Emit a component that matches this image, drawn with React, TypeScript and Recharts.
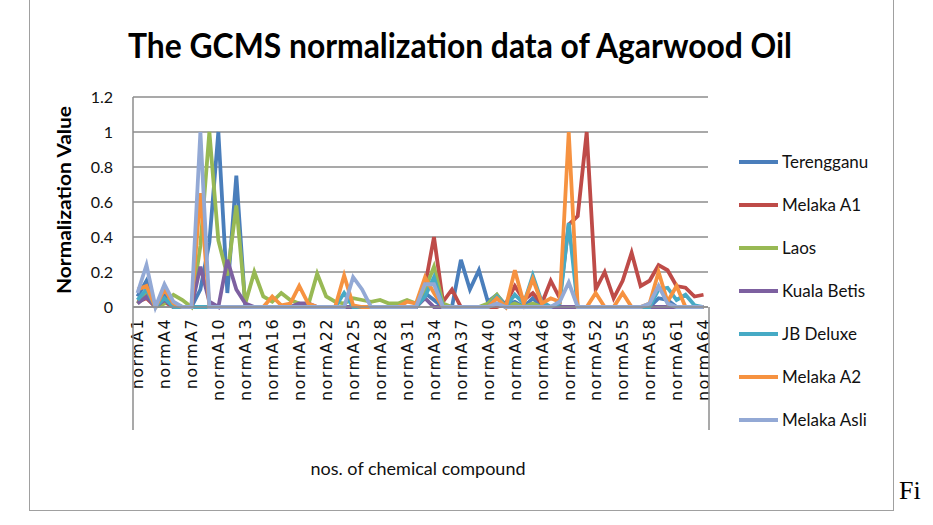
import React from 'react';
import { LineChart, Line, XAxis, YAxis, CartesianGrid } from 'recharts';

// compound labels normA1 .. normA64
const compounds = [
  'normA1', 'normA2', 'normA3', 'normA4', 'normA5', 'normA6', 'normA7', 'normA8',
  'normA9', 'normA10', 'normA11', 'normA12', 'normA13', 'normA14', 'normA15', 'normA16',
  'normA17', 'normA18', 'normA19', 'normA20', 'normA21', 'normA22', 'normA23', 'normA24',
  'normA25', 'normA26', 'normA27', 'normA28', 'normA29', 'normA30', 'normA31', 'normA32',
  'normA33', 'normA34', 'normA35', 'normA36', 'normA37', 'normA38', 'normA39', 'normA40',
  'normA41', 'normA42', 'normA43', 'normA44', 'normA45', 'normA46', 'normA47', 'normA48',
  'normA49', 'normA50', 'normA51', 'normA52', 'normA53', 'normA54', 'normA55', 'normA56',
  'normA57', 'normA58', 'normA59', 'normA60', 'normA61', 'normA62', 'normA63', 'normA64',
];

const terengganu = [
  0.06, 0.15, 0, 0.07, 0.02, 0, 0, 0.1, 0.37, 1.0, 0.08, 0.75, 0, 0, 0, 0,
  0, 0, 0, 0, 0, 0, 0, 0, 0, 0, 0, 0, 0, 0, 0, 0,
  0.08, 0.04, 0, 0, 0.27, 0.1, 0.21, 0.03, 0.07, 0.01, 0.03, 0, 0.05, 0, 0, 0,
  0, 0, 0, 0, 0, 0, 0, 0, 0, 0, 0.05, 0.04, 0, 0, 0, 0,
];

const melakaA1 = [
  0.03, 0.05, 0, 0.03, 0, 0, 0, 0, 0, 0, 0, 0, 0, 0, 0, 0,
  0, 0, 0, 0, 0, 0, 0, 0, 0, 0, 0, 0, 0, 0, 0, 0,
  0.12, 0.4, 0.03, 0.1, 0, 0, 0, 0, 0, 0.02, 0.12, 0.04, 0.08, 0.02, 0.15, 0.05,
  0.47, 0.52, 1.0, 0.1, 0.2, 0.05, 0.15, 0.31, 0.12, 0.15, 0.24, 0.21, 0.12, 0.11, 0.06, 0.07,
];

const laos = [
  0.02, 0.08, 0, 0.02, 0.07, 0.04, 0, 0.35, 1.0, 0.38, 0.18, 0.58, 0.02, 0.2, 0.06, 0.03,
  0.08, 0.04, 0.02, 0.01, 0.19, 0.06, 0.03, 0.02, 0.05, 0.04, 0.03, 0.04, 0.02, 0.02, 0.04, 0.02,
  0.1, 0.23, 0.02, 0, 0, 0, 0, 0.02, 0.07, 0, 0.02, 0, 0.02, 0, 0, 0,
  0, 0, 0, 0, 0, 0, 0, 0, 0, 0, 0, 0, 0, 0, 0, 0,
];

const kualaBetis = [
  0.02, 0.06, 0, 0.04, 0, 0, 0, 0.23, 0.03, 0, 0.27, 0.1, 0.02, 0, 0, 0,
  0, 0, 0.02, 0.02, 0, 0, 0, 0, 0, 0, 0, 0, 0, 0, 0, 0,
  0.05, 0, 0, 0, 0, 0, 0, 0, 0.02, 0, 0, 0, 0, 0, 0, 0,
  0, 0, 0, 0, 0, 0, 0, 0, 0, 0, 0, 0, 0, 0, 0, 0,
];

const jbDeluxe = [
  0.04, 0.1, 0, 0.05, 0, 0, 0, 0, 0, 0, 0, 0, 0, 0, 0, 0,
  0, 0, 0, 0, 0, 0, 0, 0.08, 0, 0, 0, 0, 0, 0, 0, 0,
  0.06, 0.17, 0, 0, 0, 0, 0, 0, 0.06, 0, 0.07, 0.02, 0.18, 0.03, 0, 0.02,
  0.48, 0, 0, 0, 0, 0, 0, 0, 0, 0, 0.1, 0.11, 0.04, 0.07, 0.01, 0,
];

const melakaA2 = [
  0.1, 0.12, 0, 0.1, 0.02, 0, 0, 0.65, 0, 0, 0, 0, 0, 0, 0, 0.06,
  0.01, 0.02, 0.12, 0.02, 0, 0, 0, 0.18, 0.01, 0, 0, 0, 0, 0, 0.03, 0.02,
  0.17, 0.08, 0, 0, 0, 0, 0, 0, 0.05, 0, 0.21, 0.02, 0.16, 0.02, 0.05, 0.03,
  1.0, 0, 0, 0.08, 0, 0, 0.08, 0, 0, 0.02, 0.2, 0.03, 0.12, 0, 0, 0,
];

const melakaAsli = [
  0.08, 0.24, 0, 0.13, 0.03, 0, 0, 1.0, 0, 0, 0, 0, 0, 0, 0, 0,
  0, 0, 0, 0, 0, 0, 0, 0, 0.17, 0.1, 0, 0, 0, 0, 0, 0,
  0.13, 0.13, 0, 0, 0, 0, 0, 0, 0.02, 0, 0, 0, 0, 0, 0, 0.03,
  0.14, 0, 0, 0, 0, 0, 0, 0, 0, 0.02, 0.12, 0.02, 0, 0, 0, 0,
];

const yTicks = [0, 0.2, 0.4, 0.6, 0.8, 1, 1.2];

const SERIES = [
  { key: 'Terengganu', values: terengganu, color: '#4A7EBB' },
  { key: 'Melaka A1', values: melakaA1, color: '#BE4B48' },
  { key: 'Laos', values: laos, color: '#98B954' },
  { key: 'Kuala Betis', values: kualaBetis, color: '#7D60A0' },
  { key: 'JB Deluxe', values: jbDeluxe, color: '#46AAC5' },
  { key: 'Melaka A2', values: melakaA2, color: '#F69240' },
  { key: 'Melaka Asli', values: melakaAsli, color: '#93A9D5' },
];

const data = compounds.map((name, i) => {
  const row: Record<string, any> = { name };
  SERIES.forEach((s) => {
    row[s.key] = s.values[i];
  });
  return row;
});

const FONT = '"DejaVu Sans", sans-serif';
const CAL = 'Lato, "Open Sans", sans-serif';

function CompoundTick({ x, payload }: any) {
  return (
    <text
      transform={`translate(${x},318) rotate(-90)`}
      textAnchor="end"
      dy="0.36em"
      fontSize={16}
      letterSpacing={1.4}
      fontFamily={FONT}
      fill="#111"
    >
      {payload.value}
    </text>
  );
}

// legend kept outside the chart so it doesn't eat into the plot width
function SideLegend() {
  return (
    <div style={{ position: 'absolute', left: 739, top: 140 }}>
      {SERIES.map((s) => (
        <div key={s.key} style={{ display: 'flex', alignItems: 'center', height: 43 }}>
          <div style={{ width: 39, height: 4, background: s.color, marginRight: 4 }} />
          <span style={{ fontFamily: CAL, fontSize: 17, color: '#111' }}>{s.key}</span>
        </div>
      ))}
    </div>
  );
}

export default function App() {
  return (
    <div style={{ position: 'absolute', left: 0, top: 0, width: 933, height: 525, background: '#fff' }}>
      <div
        style={{
          position: 'absolute',
          left: 29,
          top: -2,
          width: 863,
          height: 511,
          border: '1px solid #a0a0a0',
        }}
      />
      <LineChart
        width={933}
        height={525}
        data={data}
        margin={{ top: 97, right: 225, left: 0, bottom: 0 }}
        style={{ position: 'absolute', left: 0, top: 0 }}
      >
        <CartesianGrid vertical={false} stroke="#8c8c8c" strokeWidth={1.5} />
        <XAxis
          dataKey="name"
          interval={2}
          height={218}
          padding={{ left: 4.5, right: 4.5 }}
          tick={<CompoundTick />}
          tickLine={false}
          axisLine={{ stroke: '#8c8c8c', strokeWidth: 1.5 }}
        />
        <YAxis
          width={133}
          domain={[0, 1.2]}
          ticks={yTicks}
          tickFormatter={(v: number) => String(v)}
          tickSize={0}
          tickMargin={20}
          tick={{ fontSize: 16, fill: '#111', fontFamily: CAL }}
          axisLine={{ stroke: '#8c8c8c', strokeWidth: 1.5 }}
        />
        {SERIES.map((s) => (
          <Line
            key={s.key}
            type="linear"
            dataKey={s.key}
            name={s.key}
            stroke={s.color}
            strokeWidth={3.8}
            dot={false}
            isAnimationActive={false}
          />
        ))}
      </LineChart>
      <SideLegend />
      <svg width={933} height={525} style={{ position: 'absolute', left: 0, top: 0, pointerEvents: 'none' }}>
        <line x1={133} y1={307} x2={133} y2={430} stroke="#8c8c8c" strokeWidth={1.5} />
        <line x1={709} y1={307} x2={709} y2={430} stroke="#8c8c8c" strokeWidth={1.5} />
        <text
          x={460}
          y={58}
          textAnchor="middle"
          fontSize={35}
          fontWeight="bold"
          fontFamily={CAL}
          textLength={664}
          lengthAdjust="spacingAndGlyphs"
          fill="#000"
        >
          The GCMS normalization data of Agarwood Oil
        </text>
        <text
          transform="translate(71,200) rotate(-90)"
          textAnchor="middle"
          fontSize={18}
          fontWeight="bold"
          fontFamily={CAL}
          textLength={188}
          lengthAdjust="spacingAndGlyphs"
          fill="#000"
        >
          Normalization Value
        </text>
        <text x={418} y={475} textAnchor="middle" fontSize={18} fontFamily={CAL} fill="#111">
          nos. of chemical compound
        </text>
      </svg>
      <div
        style={{
          position: 'absolute',
          left: 899,
          top: 476,
          fontFamily: '"Liberation Serif", serif',
          fontSize: 26,
          color: '#000',
        }}
      >
        Fi
      </div>
    </div>
  );
}
